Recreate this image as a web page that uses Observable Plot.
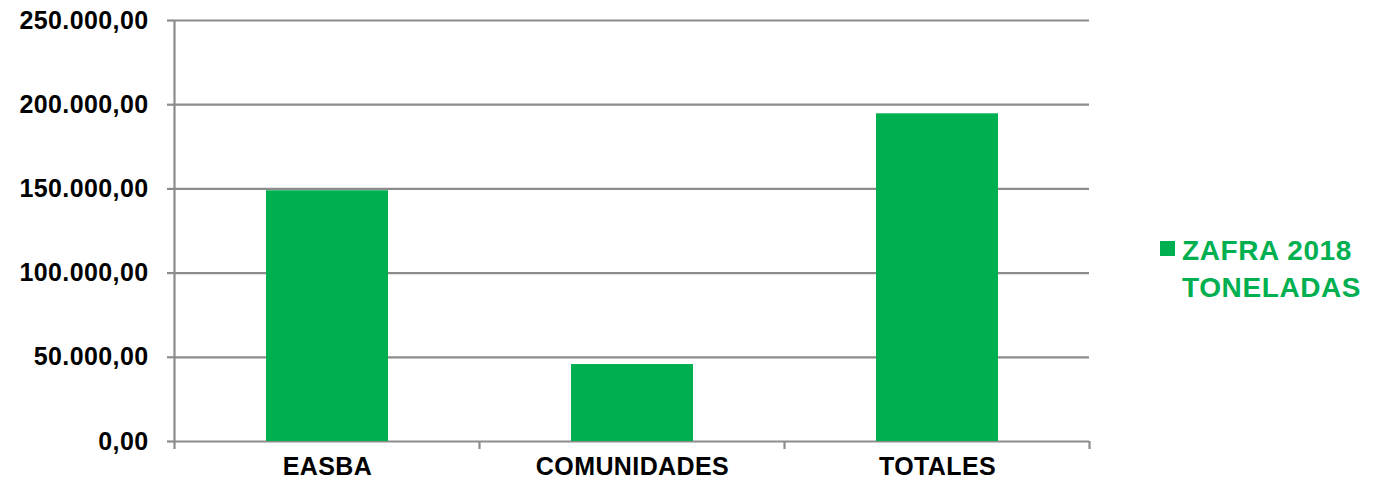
<!DOCTYPE html>
<html>
<head>
<meta charset="utf-8">
<script src="https://cdn.jsdelivr.net/npm/d3@7"></script>
<script src="https://cdn.jsdelivr.net/npm/@observablehq/plot@0.6"></script>
<style>
  html, body { margin: 0; padding: 0; background: #fff; }
  #wrap { display: flex; align-items: flex-start; width: 1383px; height: 486px; font-family: "Liberation Sans", Arial, sans-serif; }
  #legend { padding-top: 232px; padding-left: 10px; color: #00B050; font-weight: bold; font-size: 28px; line-height: 37px; letter-spacing: 0.6px; }
  #legend .row { display: flex; align-items: flex-start; }
  #legend .sw { width: 15px; height: 15px; background: #00B050; margin-top: 9px; margin-right: 7px; flex: none; }
  #chart svg text { font-size: 25px !important; font-weight: bold; letter-spacing: 0.4px; }
</style>
</head>
<body>
<div id="wrap"><div id="chart"></div><div id="legend"></div></div>
<script>
const categories = ["EASBA", "COMUNIDADES", "TOTALES"];
const values = [148900, 45700, 194600];
const yTicks = [0, 50000, 100000, 150000, 200000, 250000];
const seriesName = "ZAFRA 2018 TONELADAS";
const seriesLines = ["ZAFRA 2018", "TONELADAS"];
const green = "#00B050";
const gridColor = "#8c8c8c";

const data = categories.map((c, i) => ({category: c, value: values[i]}));
const locale = d3.formatLocale({decimal: ",", thousands: ".", grouping: [3], currency: ["", ""]});
const fmt = locale.format(",.2f");

function boundaryTicks(index, scales, values, dims) {
  const x = scales.x, y = scales.y;
  const step = x(categories[1]) - x(categories[0]);
  const pad = step * 0.3;
  const xs = categories.map(c => x(c) - pad);
  xs.push(x(categories[categories.length - 1]) - pad + step);
  const y0 = y(0);
  const g = d3.create("svg:g");
  g.selectAll("line").data(xs).join("line")
    .attr("x1", d => d).attr("x2", d => d)
    .attr("y1", (d, i) => i === 0 ? y(yTicks[yTicks.length - 1]) : y0)
    .attr("y2", y0 + 8)
    .attr("stroke", gridColor).attr("stroke-width", 2.2);
  return g.node();
}

const plot = Plot.plot({
  width: 1150,
  height: 486,
  marginLeft: 174,
  marginRight: 61,
  marginTop: 20,
  marginBottom: 45,
  style: {fontFamily: "'Liberation Sans', Arial, sans-serif", fontWeight: "bold", fontSize: "25px", color: "#000", background: "#fff"},
  x: {domain: categories, paddingInner: 0.6, paddingOuter: 0.3, label: null},
  y: {domain: [0, 250000], label: null},
  marks: [
    Plot.gridY(yTicks, {stroke: gridColor, strokeOpacity: 1, strokeWidth: 2.2}),
    Plot.barY(data, {x: "category", y: "value", fill: green}),
    Plot.axisY({ticks: yTicks, tickFormat: fmt, tickSize: 7, tickPadding: 19, stroke: gridColor, strokeWidth: 2.2, fill: "#000", fontSize: 25, fontWeight: "bold", label: null}),
    Plot.axisX({tickSize: 0, tickPadding: 16, fill: "#000", fontSize: 25, fontWeight: "bold", label: null}),
    boundaryTicks
  ]
});
document.getElementById("chart").appendChild(plot);

const lg = document.getElementById("legend");
lg.setAttribute("aria-label", seriesName);
seriesLines.forEach((line, i) => {
  const row = document.createElement("div");
  row.className = "row";
  const sw = document.createElement("div");
  sw.className = "sw";
  if (i > 0) sw.style.visibility = "hidden";
  const tx = document.createElement("span");
  tx.textContent = line;
  row.appendChild(sw); row.appendChild(tx);
  lg.appendChild(row);
});
</script>
</body>
</html>
